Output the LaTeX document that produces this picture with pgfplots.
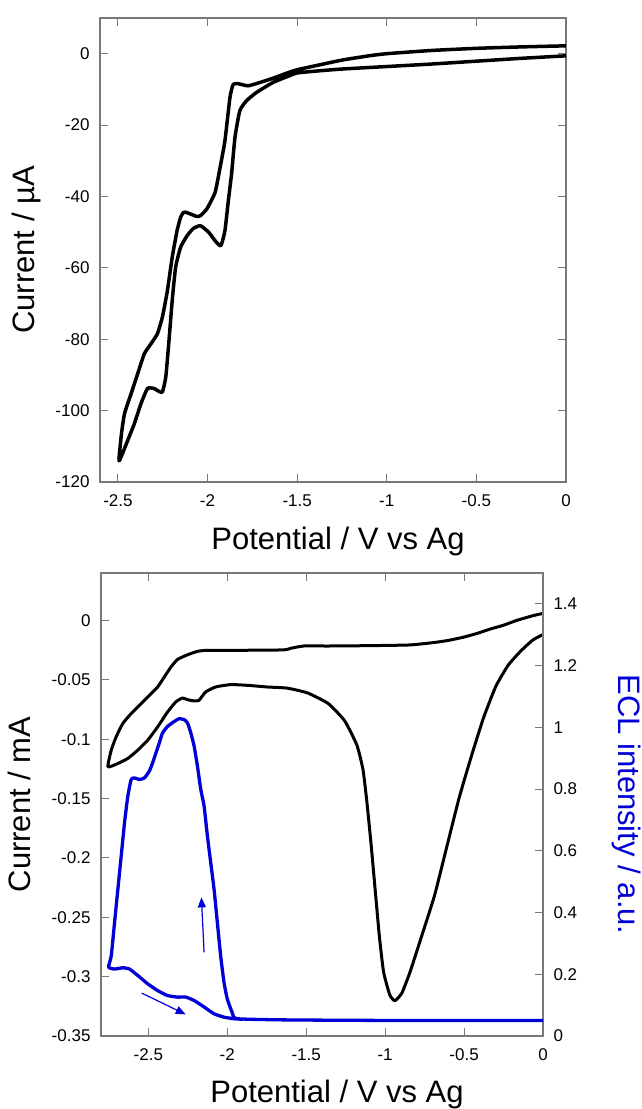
\documentclass[border=0pt]{standalone}
\usepackage{pgfplots}
\pgfplotsset{compat=1.18}
\usepackage{fontspec}
\setmainfont{Liberation Sans}
\usetikzlibrary{arrows.meta}
\definecolor{axisgray}{RGB}{120,120,120}
\definecolor{eclblue}{RGB}{0,0,215}
\newcommand{\labfont}{\fontsize{31}{36}\selectfont}

\pgfplotsset{
  cvbase/.style={
    scale only axis,
    axis line style={axisgray, line width=1.2pt},
    every tick/.style={axisgray, line width=1.1pt},
    tick align=inside,
    major tick length=8pt,
    tick label style={font=\fontsize{17}{20}\selectfont},
    /pgf/number format/assume math mode=true,
    /pgf/number format/fixed,
    scaled ticks=false,
    xtick={-2.5,-2,-1.5,-1,-0.5,0},
    xticklabel style={yshift=-9pt},
    every axis x label/.style={at={(axis description cs:0.5,0)}, anchor=base, yshift=-68pt, font=\labfont},
  },
  curve/.style={smooth, tension=0.3, line join=round},
}

\begin{document}
\begin{tikzpicture}
\path[use as bounding box] (0pt,0pt) rectangle (642pt,1109pt);

% top panel: CV in microamps
\begin{axis}[cvbase,
  at={(100pt,627pt)}, anchor=south west, width=466pt, height=464pt,
  xmin=-2.6, xmax=0, ymin=-120, ymax=10,
  ytick={-120,-100,-80,-60,-40,-20,0},
  yticklabel style={xshift=-7pt},
  xlabel={Potential / V vs Ag},
  ylabel={Current / µA},
  every axis x label/.append style={xshift=5pt},
  every axis y label/.style={at={(axis description cs:-0.1395,0.5)}, rotate=90, anchor=base, font=\labfont},
]
\addplot[black, line width=3.5pt, curve] coordinates {
(0,-0.6) (-0.25,-1.3) (-0.5,-2.1) (-0.75,-2.9) (-1.0,-3.6) (-1.25,-4.3)
(-1.4,-4.9) (-1.5,-5.4) (-1.544,-6.2) (-1.636,-8.1) (-1.728,-10.9)
(-1.783,-13.2) (-1.82,-16) (-1.847,-23.5) (-1.866,-33.7) (-1.884,-41.2)
(-1.903,-49.6) (-1.926,-53.8) (-1.958,-52.4) (-1.994,-50) (-2.04,-48.2)
(-2.08,-49) (-2.114,-51) (-2.15,-54.2) (-2.178,-59.8) (-2.197,-69.1)
(-2.215,-80.3) (-2.233,-90.6) (-2.252,-94.8) (-2.275,-94.5) (-2.298,-93.8)
(-2.335,-93.8) (-2.371,-98) (-2.408,-103.6) (-2.445,-108.3) (-2.49,-113.9)
(-2.494,-113.4) (-2.48,-106.4) (-2.463,-100.8) (-2.426,-95.2) (-2.39,-89.7)
(-2.353,-84.1) (-2.316,-81.3) (-2.28,-78.5) (-2.252,-73.8) (-2.224,-66.4)
(-2.197,-57) (-2.17,-49.6) (-2.15,-45.8) (-2.135,-44.5) (-2.123,-44.4)
(-2.096,-44.9) (-2.06,-45.6) (-2.04,-45.4) (-2.004,-43.5) (-1.958,-38.9)
(-1.93,-31.9) (-1.903,-24.4) (-1.875,-12.3) (-1.857,-8.6) (-1.83,-8.4)
(-1.774,-9.0) (-1.71,-8.1) (-1.636,-6.9) (-1.544,-5.2) (-1.5,-4.5)
(-1.4,-3.4) (-1.25,-1.8) (-1.1,-0.6) (-1.0,0.0) (-0.75,0.9) (-0.5,1.5)
(-0.25,1.9) (0,2.2)
};
\end{axis}

% bottom panel: CV in milliamps
\begin{axis}[cvbase,
  at={(101pt,73pt)}, anchor=south west, width=442pt, height=463pt,
  xmin=-2.8, xmax=0, ymin=-0.35, ymax=0.04,
  ytick={-0.35,-0.3,-0.25,-0.2,-0.15,-0.1,-0.05,0},
  ytick pos=left,
  yticklabel style={xshift=-7pt},
  xlabel={Potential / V vs Ag},
  ylabel={Current / mA},
  every axis x label/.append style={xshift=15pt, yshift=2pt},
  every axis y label/.style={at={(axis description cs:-0.1595,0.5)}, rotate=90, anchor=base, font=\labfont},
]
\addplot[black, line width=3pt, curve] coordinates {
(0,0.006) (-0.065,0.004) (-0.168,0.0) (-0.25,-0.004) (-0.324,-0.0068)
(-0.42,-0.011) (-0.505,-0.0141) (-0.6,-0.0168) (-0.687,-0.0185)
(-0.842,-0.0206) (-1.101,-0.0212) (-1.36,-0.0215) (-1.516,-0.0215)
(-1.6,-0.0235) (-1.65,-0.0248) (-2.021,-0.0252) (-2.137,-0.0252)
(-2.189,-0.026) (-2.252,-0.0289) (-2.315,-0.0328) (-2.357,-0.0392)
(-2.399,-0.0476) (-2.441,-0.056) (-2.483,-0.0616) (-2.546,-0.070)
(-2.609,-0.0784) (-2.662,-0.0868) (-2.704,-0.098) (-2.735,-0.1092)
(-2.756,-0.1232)
(-2.693,-0.1204) (-2.63,-0.1162) (-2.567,-0.1092) (-2.504,-0.1008)
(-2.441,-0.0896) (-2.378,-0.077) (-2.326,-0.0686) (-2.284,-0.0653)
(-2.252,-0.0667) (-2.21,-0.0678) (-2.179,-0.0672) (-2.137,-0.0602)
(-2.074,-0.056) (-1.979,-0.054) (-1.874,-0.0546) (-1.748,-0.056)
(-1.619,-0.057) (-1.49,-0.0611) (-1.36,-0.070) (-1.256,-0.0846)
(-1.179,-0.105) (-1.14,-0.1258) (-1.114,-0.155) (-1.088,-0.190)
(-1.062,-0.2286) (-1.036,-0.2668) (-1.01,-0.296) (-0.971,-0.3153)
(-0.938,-0.3203) (-0.894,-0.3138) (-0.842,-0.296) (-0.764,-0.2639)
(-0.687,-0.2316) (-0.609,-0.1904) (-0.531,-0.1493) (-0.453,-0.114)
(-0.376,-0.0817) (-0.298,-0.0552) (-0.22,-0.0376) (-0.142,-0.0259)
(-0.065,-0.0165) (0,-0.0118)
};
\end{axis}

% bottom panel: ECL intensity on the right axis
\begin{axis}[cvbase,
  at={(101pt,73pt)}, anchor=south west, width=442pt, height=463pt,
  xmin=-2.8, xmax=0, ymin=0, ymax=1.5,
  axis x line=none, axis y line*=right,
  tick align=inside,
  ytick={0,0.2,0.4,0.6,0.8,1,1.2,1.4},
  yticklabel style={xshift=7pt},
  ylabel={ECL intensity / a.u.},
  every axis y label/.style={at={(axis description cs:1.1697,0.5)}, rotate=-90, anchor=base, text=eclblue, font=\labfont},
]
\addplot[eclblue, line width=3.3pt, curve] coordinates {
(0,0.05) (-0.8,0.05) (-1.6,0.052) (-1.937,0.056) (-1.968,0.075) (-2.0,0.12)
(-2.021,0.174) (-2.042,0.26) (-2.063,0.368) (-2.084,0.476) (-2.105,0.562)
(-2.126,0.648) (-2.147,0.745) (-2.168,0.799) (-2.189,0.874) (-2.21,0.939)
(-2.231,0.982) (-2.252,1.014) (-2.273,1.025) (-2.305,1.028) (-2.336,1.019)
(-2.378,1.003) (-2.41,0.982) (-2.431,0.949) (-2.452,0.917) (-2.473,0.885)
(-2.494,0.858) (-2.525,0.836) (-2.557,0.831) (-2.588,0.836) (-2.609,0.831)
(-2.63,0.777) (-2.651,0.691) (-2.672,0.583) (-2.693,0.476) (-2.714,0.368)
(-2.735,0.26) (-2.752,0.223) (-2.714,0.217) (-2.662,0.221) (-2.62,0.217)
(-2.567,0.196) (-2.504,0.169) (-2.441,0.147) (-2.378,0.131) (-2.315,0.126)
(-2.263,0.126) (-2.21,0.115) (-2.147,0.094) (-2.084,0.072) (-2.021,0.061)
(-1.958,0.056) (-1.9,0.054)
};
\addplot[eclblue, line width=1.2pt, -{Triangle[length=10pt,width=8pt]}] coordinates {(-2.147,0.271) (-2.164,0.449)};
\addplot[eclblue, line width=1.2pt, -{Triangle[length=10pt,width=8pt]}] coordinates {(-2.542,0.139) (-2.263,0.070)};
\end{axis}
\end{tikzpicture}
\end{document}
